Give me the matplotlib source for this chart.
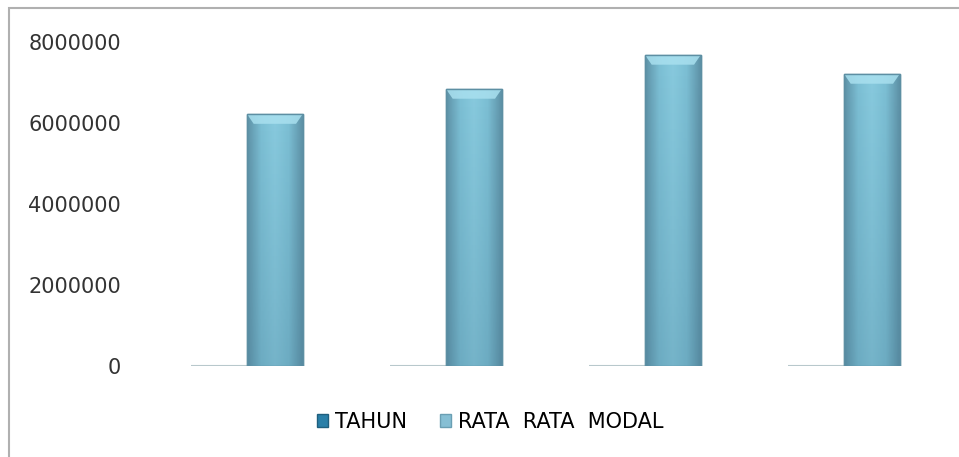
import matplotlib.pyplot as plt
import numpy as np
from matplotlib.colors import LinearSegmentedColormap
from matplotlib.patches import Rectangle, Polygon

# data
categories = ["1", "2", "3", "4"]
tahun = [2010, 2011, 2012, 2013]
rata_rata_modal = [6220000, 6840000, 7680000, 7210000]
series_names = ["TAHUN", "RATA  RATA  MODAL"]
yticks = [0, 2000000, 4000000, 6000000, 8000000]

plt.rcParams['font.family'] = ['DejaVu Sans']

fig = plt.figure(figsize=(9.59, 4.57), dpi=100)
# outer chart frame (cut off on the right and bottom like the reference)
fig.patches.append(Rectangle((9 / 959, -0.1), 1.2, 1 - 8 / 457 + 0.1,
                             transform=fig.transFigure, fill=False,
                             edgecolor='#b0b0b0', linewidth=1.5))

ax = fig.add_axes([147.5 / 959, 1 - 366 / 457, (943.5 - 147.5) / 959, (366 - 42) / 457])

x = np.arange(len(categories))
w = 0.28
b1 = ax.bar(x - w / 2, tahun, w, color='#2e86ad', edgecolor='#b8c8cc', linewidth=1.5, label=series_names[0])
b2 = ax.bar(x + w / 2, rata_rata_modal, w, color='#7fc0d6', edgecolor='#5d8fa3', linewidth=1.0,
            label=series_names[1])

# cylinder-like shading for the big bars
cmap = LinearSegmentedColormap.from_list('shade', ['#5f93a8', '#7cbfd4', '#88cade', '#7cbfd4', '#5f93a8'])
nx, ny = 60, 100
hx = np.linspace(0, 1, nx)
vy = np.linspace(0, 1, ny)[:, None]
base = np.tile(hx, (ny, 1))
for bar in b2:
    bx, by = bar.get_x(), bar.get_y()
    bw, bh = bar.get_width(), bar.get_height()
    z = bar.get_zorder()
    img = ax.imshow(base, cmap=cmap, extent=[bx, bx + bw, by, by + bh], aspect='auto',
                    origin='lower', zorder=z + 0.1)
    img.set_clip_path(bar)
    # darker towards the bottom
    dark = np.zeros((ny, 1, 4))
    dark[..., :3] = [0.25, 0.45, 0.55]
    dark[..., 3] = (0.25 * (1 - vy))
    im2 = ax.imshow(dark, extent=[bx, bx + bw, by, by + bh], aspect='auto',
                    origin='lower', zorder=z + 0.2)
    im2.set_clip_path(bar)
    # soft bevel on top
    top = 8000000 * 0.03
    ax.add_patch(Polygon([(bx, by + bh), (bx + bw, by + bh),
                          (bx + bw * 0.88, by + bh - top), (bx + bw * 0.12, by + bh - top)],
                         closed=True, facecolor='#a9e0ef', edgecolor='none', alpha=0.85, zorder=z + 0.3))
    ax.add_patch(Rectangle((bx, by), bw, bh, fill=False, edgecolor='#5d8fa3',
                           linewidth=1.0, zorder=z + 0.4))

ax.set_xlim(-0.5, len(categories) - 0.5)
ax.set_ylim(0, 8000000)
ax.set_yticks(yticks)
ax.set_yticklabels([str(v) for v in yticks], fontsize=15, color='#333333')
ax.set_xticks([])
ax.tick_params(axis='y', length=0, pad=19)
for s in ax.spines.values():
    s.set_visible(False)

h1 = Rectangle((0, 0), 1, 1, facecolor='#2a7fa8', edgecolor='#1f5f7e')
h2 = Rectangle((0, 0), 1, 1, facecolor='#86bfd4', edgecolor='#6a9fb3')
fig.legend([h1, h2], series_names, loc='center', bbox_to_anchor=(490 / 959, 1 - 422 / 457),
           ncol=2, frameon=False, fontsize=15, handlelength=0.55, handleheight=0.55,
           handletextpad=0.3, columnspacing=1.6)

fig.savefig('out.png', dpi=100)
